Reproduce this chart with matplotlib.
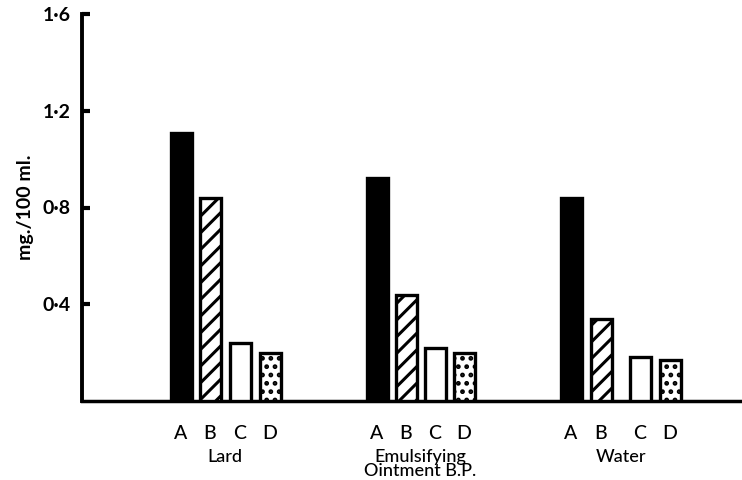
import numpy as np
import matplotlib
matplotlib.use('Agg')
from matplotlib import pyplot as plt

plt.rcParams['font.family'] = ['Lato', 'DejaVu Sans']
plt.rcParams['hatch.linewidth'] = 2.2

groups = ['Lard', 'Emulsifying\nOintment B.P.', 'Water']
letters = ['A', 'B', 'C', 'D']
lard = [1.11, 0.84, 0.24, 0.20]
emulsifying = [0.92, 0.44, 0.22, 0.20]
water = [0.84, 0.34, 0.18, 0.17]
yticks = [0.4, 0.8, 1.2, 1.6]
ytick_labels = ['0·4', '0·8', '1·2', '1·6']

# bar centres (in pixel-like units along the axis)
positions = [
    [181, 210, 240, 270],
    [377, 406, 435, 464],
    [571, 601, 640, 670],
]
values = [lard, emulsifying, water]
styles = [
    dict(facecolor='black', hatch=None),
    dict(facecolor='white', hatch='//'),
    dict(facecolor='white', hatch=None),
    dict(facecolor='white', hatch='..'),
]

fig = plt.figure(figsize=(7.42, 4.8), dpi=100)
ax = fig.add_axes([82 / 742, 79 / 480, 658 / 742, 387 / 480])

for pos, vals in zip(positions, values):
    for x, v, st in zip(pos, vals, styles):
        ax.bar(x, v, width=21, color=st['facecolor'], edgecolor='black',
               linewidth=2.4, hatch=st['hatch'], zorder=3)

ax.set_xlim(82, 740)
ax.set_ylim(0, 1.6)

for sp in ['top', 'right']:
    ax.spines[sp].set_visible(False)
ax.spines['left'].set_linewidth(2.8)
ax.spines['bottom'].set_linewidth(2.5)

ax.set_yticks(yticks)
ax.set_yticklabels(ytick_labels, fontsize=14, fontweight='bold')
ax.tick_params(axis='y', direction='in', length=6, width=3, pad=8)

all_pos = [p for pos in positions for p in pos]
ax.set_xticks(all_pos)
ax.set_xticklabels(letters * 3, fontsize=14, fontweight='medium')
ax.tick_params(axis='x', length=0, pad=17)

for pos, name in zip(positions, groups):
    ax.text(np.mean(pos), -0.2, name, ha='center', va='top',
            fontsize=13, fontweight='medium', linespacing=0.8)

ax.set_ylabel('mg./100 ml.', fontsize=14, fontweight='bold', labelpad=6)

plt.savefig('out.png', dpi=100)
